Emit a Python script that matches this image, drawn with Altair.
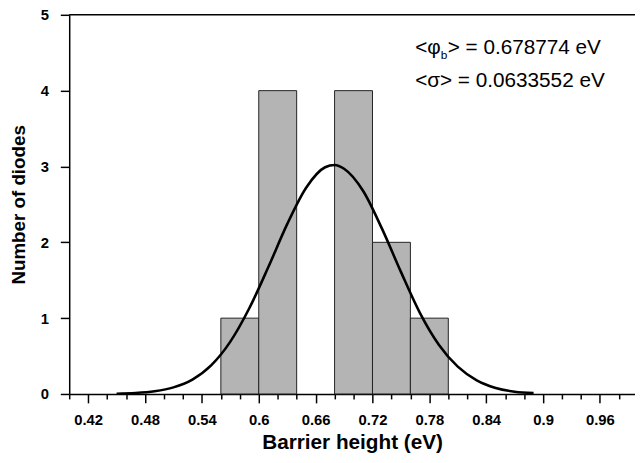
import altair as alt
import pandas as pd

# Histogram bins (barrier height, eV) and counts
bin_start = [0.56, 0.60, 0.68, 0.72, 0.76]
bin_end = [0.60, 0.64, 0.72, 0.76, 0.80]
counts = [1, 4, 4, 2, 1]

# Fitted curve, values
curve_x = [0.45, 0.47, 0.49, 0.51, 0.53, 0.55, 0.57, 0.59, 0.61, 0.63, 0.65,
           0.67, 0.68, 0.69, 0.71, 0.73, 0.75, 0.77, 0.79, 0.81, 0.83, 0.85,
           0.87, 0.89]
curve_y = [0.004, 0.013, 0.036, 0.087, 0.19, 0.38, 0.69, 1.13, 1.67, 2.24, 2.72,
           2.99, 3.02, 2.97, 2.68, 2.18, 1.61, 1.07, 0.65, 0.36, 0.18, 0.08,
           0.03, 0.012]

x_ticks = [0.40, 0.42, 0.44, 0.46, 0.48, 0.50, 0.52, 0.54, 0.56, 0.58, 0.60,
           0.62, 0.64, 0.66, 0.68, 0.70, 0.72, 0.74, 0.76, 0.78, 0.80, 0.82,
           0.84, 0.86, 0.88, 0.90, 0.92, 0.94, 0.96, 0.98]
y_ticks = [0, 1, 2, 3, 4, 5]

mean_label = "> = 0.678774 eV"
sigma_label = "<σ> = 0.0633552 eV"

FONT = "Liberation Sans"

bars_df = pd.DataFrame({"x0": bin_start, "x1": bin_end, "n": counts})
curve_df = pd.DataFrame({"x": curve_x, "y": curve_y})

major_test = "abs((datum.value - 0.42) / 0.06 - round((datum.value - 0.42) / 0.06)) < 0.01"

x_scale = alt.Scale(domain=[0.40, 0.997], nice=False, zero=False)
y_scale = alt.Scale(domain=[0, 5], nice=False)

x_axis = alt.Axis(
    values=x_ticks,
    labelExpr=f"({major_test}) ? '' + datum.value : ''",
    labelOverlap=False,
    labelFlush=False,
    tickSize={"condition": {"test": major_test, "value": 9}, "value": 5},
    title="Barrier height (eV)",
    titleFont=FONT, titleFontSize=21, titleFontWeight="bold", titleColor="black",
    titlePadding=4,
    labelFont=FONT, labelFontSize=15, labelFontWeight="bold", labelColor="black",
    labelPadding=10,
    domainColor="black", domainWidth=1.5, tickColor="black", tickWidth=1.5,
    grid=False,
)
y_axis = alt.Axis(
    values=y_ticks,
    format="d",
    tickSize=9,
    title="Number of diodes",
    titleFont=FONT, titleFontSize=19, titleFontWeight="bold", titleColor="black",
    titlePadding=12,
    labelFont=FONT, labelFontSize=15, labelFontWeight="bold", labelColor="black",
    labelPadding=12,
    domainColor="black", domainWidth=1.5, tickColor="black", tickWidth=1.5,
    grid=False,
)


def X(field):
    return alt.X(field, scale=x_scale, axis=x_axis)


def Y(field):
    return alt.Y(field, scale=y_scale, axis=y_axis)


bars = alt.Chart(bars_df).mark_rect(
    fill="#b4b4b4", stroke="#222222", strokeWidth=1
).encode(
    x=X("x0:Q"),
    x2="x1:Q",
    y=Y("n:Q"),
    y2=alt.datum(0),
)

curve = alt.Chart(curve_df).mark_line(
    color="black", strokeWidth=2.6, interpolate="monotone"
).encode(x=X("x:Q"), y=Y("y:Q"))

top_rule = alt.Chart(pd.DataFrame({"y": [5]})).mark_rule(
    color="black", strokeWidth=1.5
).encode(y=Y("y:Q"))

ann_df = pd.DataFrame({"x": [0.765], "y": [4.557]})
ann2_df = pd.DataFrame({"x": [0.765], "y": [4.128]})

t1a = alt.Chart(ann_df).mark_text(
    text="<φ", align="left", baseline="middle", font=FONT, fontSize=21, color="black"
).encode(x=X("x:Q"), y=Y("y:Q"))
t1b = alt.Chart(ann_df).mark_text(
    text="b", align="left", baseline="middle", font=FONT, fontSize=12, color="black",
    dx=26, dy=7
).encode(x=X("x:Q"), y=Y("y:Q"))
t1c = alt.Chart(ann_df).mark_text(
    text=mean_label, align="left", baseline="middle", font=FONT, fontSize=21, color="black",
    dx=33
).encode(x=X("x:Q"), y=Y("y:Q"))
t2 = alt.Chart(ann2_df).mark_text(
    text=sigma_label, align="left", baseline="middle", font=FONT, fontSize=21, color="black"
).encode(x=X("x:Q"), y=Y("y:Q"))

chart = alt.layer(bars, curve, top_rule, t1a, t1b, t1c, t2).properties(
    width=573,
    height=384,
    autosize=alt.AutoSizeParams(type="none"),
    padding={"left": 62, "top": 4, "right": 0, "bottom": 67},
    background="white",
).configure_view(stroke=None)

chart.save("out.html", embed_options={"renderer": "svg", "actions": False})
